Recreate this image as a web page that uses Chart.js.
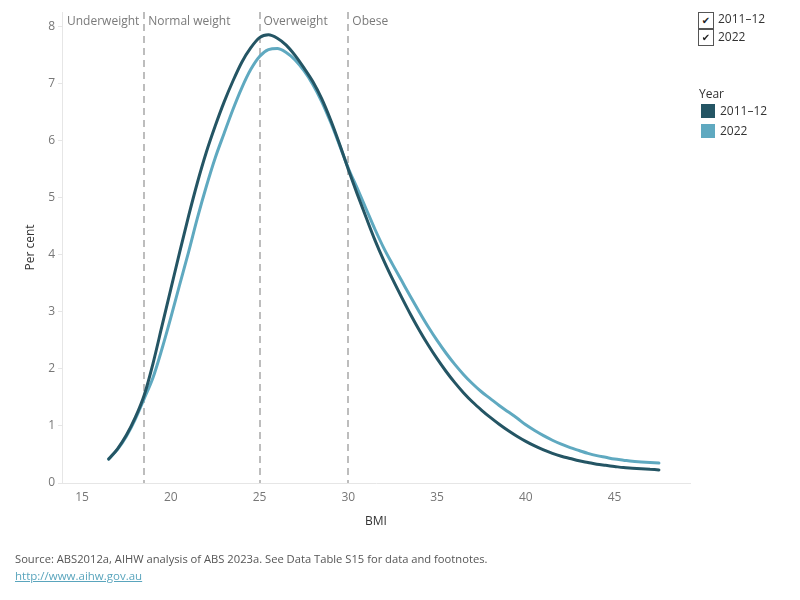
<!DOCTYPE html>
<html><head><meta charset="utf-8">
<script src="https://cdn.jsdelivr.net/npm/chart.js@4/dist/chart.umd.min.js"></script>
<style>
body{margin:0;background:#fff;font-family:"Open Sans",sans-serif;}
#wrap{position:relative;width:800px;height:600px;overflow:hidden;background:#fff}
canvas{position:absolute;left:0;top:0}
.t{position:absolute;font-size:12px;color:#333;white-space:nowrap;line-height:16px}
.cb{position:absolute;width:14px;height:15px;border:1px solid #555;background:#fff;font-size:10px;line-height:15px;text-align:center;color:#222;font-family:"DejaVu Sans",sans-serif}
.sw{position:absolute;width:14px;height:14px}
a{color:#5aa5bd}
</style></head><body>
<div id="wrap">
<canvas id="c" width="800" height="600"></canvas>
<div class="cb" style="left:698px;top:12px">✔</div>
<div class="cb" style="left:698px;top:29px">✔</div>
<div class="t" style="left:718px;top:11px">2011–12</div>
<div class="t" style="left:718px;top:29px">2022</div>
<div class="t" style="left:699px;top:86px">Year</div>
<div class="sw" style="left:701px;top:104px;background:#245564"></div>
<div class="t" style="left:720px;top:103px">2011–12</div>
<div class="sw" style="left:701px;top:124px;background:#5fa9c0"></div>
<div class="t" style="left:720px;top:123px">2022</div>
<div class="t" style="left:15px;top:551px;color:#555;font-size:11.2px">Source: ABS2012a, AIHW analysis of ABS 2023a. See Data Table S15 for data and footnotes.</div>
<div class="t" style="left:15px;top:568px;font-size:11.5px"><a href="http://www.aihw.gov.au">http://www.aihw.gov.au</a></div>
</div>
<script>
const bmi = [16.5,17,17.5,18,18.5,19,19.5,20,20.5,21,21.5,22,22.5,23,23.5,24,24.5,25,25.5,26,26.5,27,27.5,28,28.5,29,29.5,30,30.5,31,31.5,32,32.5,33,33.5,34,34.5,35,35.5,36,36.5,37,37.5,38,38.5,39,39.5,40,40.5,41,41.5,42,42.5,43,43.5,44,44.5,45,45.5,46,46.5,47,47.5];
const seriesNames = ["2011–12","2022"];
const values2011 = [0.42,0.60,0.84,1.15,1.54,2.10,2.75,3.40,4.05,4.68,5.27,5.80,6.26,6.68,7.05,7.38,7.63,7.81,7.86,7.80,7.68,7.50,7.28,7.04,6.74,6.37,5.95,5.50,5.07,4.66,4.26,3.90,3.57,3.26,2.96,2.68,2.42,2.18,1.96,1.76,1.58,1.42,1.28,1.15,1.03,0.92,0.82,0.73,0.65,0.58,0.52,0.47,0.43,0.39,0.36,0.33,0.31,0.29,0.27,0.26,0.25,0.24,0.23];
const values2022 = [0.42,0.59,0.82,1.12,1.48,1.85,2.35,2.90,3.48,4.05,4.65,5.20,5.70,6.13,6.55,6.93,7.25,7.48,7.60,7.62,7.55,7.42,7.23,6.99,6.69,6.33,5.93,5.52,5.17,4.81,4.45,4.12,3.83,3.55,3.27,3.00,2.74,2.50,2.28,2.08,1.90,1.74,1.60,1.48,1.36,1.25,1.14,1.02,0.92,0.83,0.75,0.68,0.62,0.57,0.52,0.48,0.45,0.42,0.40,0.38,0.37,0.36,0.35];
const xTicks = [15,20,25,30,35,40,45];
const yTicks = [0,1,2,3,4,5,6,7,8];
const bandStarts = [null,18.5,25,30];
const bandLabels = ["Underweight","Normal weight","Overweight","Obese"];

const toPts = v => bmi.map((b,i)=>({x:b,y:v[i]}));
const FONT = '"Open Sans", sans-serif';

const bands = {
  id:'bands',
  beforeDatasetsDraw(chart){
    const {ctx, chartArea:a, scales:{x}} = chart;
    ctx.save();
    ctx.strokeStyle='#bdbdbd'; ctx.lineWidth=2; ctx.setLineDash([7,5]);
    bandStarts.forEach(b=>{ if(b===null) return;
      const px=Math.round(x.getPixelForValue(b));
      ctx.beginPath(); ctx.moveTo(px,a.top); ctx.lineTo(px,a.bottom); ctx.stroke();});
    ctx.restore();
  },
  afterDatasetsDraw(chart){
    const {ctx, chartArea:a, scales:{x}} = chart;
    ctx.save();
    ctx.font='12px '+FONT; ctx.fillStyle='#7a7a7a'; ctx.textBaseline='middle'; ctx.textAlign='left';
    bandStarts.forEach((b,i)=>{
      const px = b===null ? a.left+5 : x.getPixelForValue(b)+4;
      ctx.fillText(bandLabels[i], px, 21.5);
    });
    ctx.restore();
  }
};

new Chart(document.getElementById('c'),{
  type:'line',
  data:{datasets:[
    {label:seriesNames[0],data:toPts(values2011),borderColor:'#245564',borderWidth:3,pointRadius:0,cubicInterpolationMode:'monotone',borderCapStyle:'round'},
    {label:seriesNames[1],data:toPts(values2022),borderColor:'#5fa9c0',borderWidth:3,pointRadius:0,cubicInterpolationMode:'monotone',borderCapStyle:'round'}
  ]},
  options:{
    responsive:false, animation:false,
    layout:{padding:{left:0,right:110,top:12,bottom:67}},
    plugins:{legend:{display:false},tooltip:{enabled:false}},
    scales:{
      x:{type:'linear',min:13.87,max:49.25,
        afterBuildTicks:s=>{s.ticks=xTicks.map(v=>({value:v}));},
        afterFit:s=>{s.height=50;},
        grid:{display:false,drawTicks:false},
        border:{display:true,color:'#e6e6e6',width:1},
        ticks:{padding:7,color:'#777',font:{family:FONT,size:12},maxRotation:0},
        title:{display:true,text:'BMI',color:'#333',font:{family:FONT,size:12},padding:{top:4,bottom:4}}
      },
      y:{type:'linear',min:0,max:8.26,
        afterBuildTicks:s=>{s.ticks=yTicks.map(v=>({value:v}));},
        afterFit:s=>{s.width=62;},
        grid:{display:true,drawOnChartArea:false,drawTicks:true,tickLength:4,color:'#e6e6e6'},
        border:{display:true,color:'#e6e6e6',width:1},
        ticks:{padding:3,color:'#777',font:{family:FONT,size:12}},
        title:{display:true,text:'Per cent',color:'#333',font:{family:FONT,size:12},padding:{top:23,bottom:0}}
      }
    }
  },
  plugins:[bands]
});
</script>
</body></html>
